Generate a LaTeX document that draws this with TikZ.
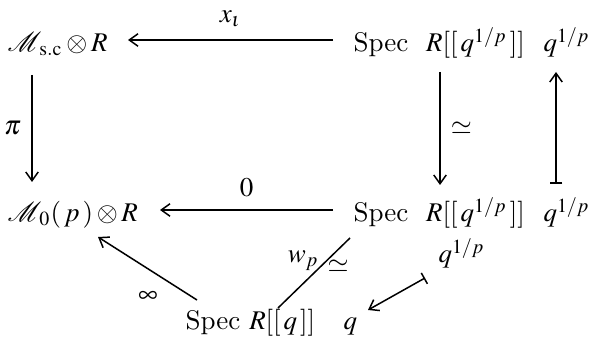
\documentclass[tikz,border=0pt]{standalone}
\usepackage{mathptmx}
\usepackage{mathrsfs}
\usetikzlibrary{calc,arrows.meta}
\begin{document}
\begin{tikzpicture}[x=0.4pt,y=-0.4pt,
  every node/.style={font=\fontsize{10.8}{13}\selectfont},
  obj/.style={anchor=west,inner sep=0pt,text height=11pt,text depth=1.5pt},
  lab/.style={inner sep=1pt},
  arr/.style={-{Straight Barb[length=3.5pt,width=5pt]},line width=0.6pt},
  mto/.style={{Bar[width=5pt]}-{Straight Barb[length=3.5pt,width=5pt]},line width=0.6pt},
  pln/.style={line width=0.6pt}]
\useasboundingbox (0,0) rectangle (594,339);
% objects
\node[obj] (msc) at (7,40) {$\mathscr{M}_{\,\mathrm{s.c}}\otimes R$};
\node[obj] (mzero) at (7,210) {$\mathscr{M}_{\,0}(\,p\,)\otimes R$};
\node[obj] (spectop) at (353,40) {Spec\ \ $R[[\,q^{1/p}\,]]$};
\node[obj] (qtop) at (543,40) {$q^{1/p}$};
\node[obj] (specbot) at (353,210) {Spec\ \ $R[[\,q^{1/p}\,]]$};
\node[obj] (qbot) at (543,210) {$q^{1/p}$};
\node[obj] (specq) at (185,318) {Spec $R[[\,q\,]]$};
\node[obj] (qq) at (343,318) {$q$};
\node[obj] (qmid) at (438,251) {$q^{1/p}$};
% arrows
\draw[arr] ($(spectop.west)+(-20,0)$) -- node[lab,above=4pt] {$x_\iota$} (128,40);
\draw[arr] ($(specbot.west)+(-20,0)$) -- node[lab,above=4pt] {$0$} (160,210);
\draw[arr] (msc.west)+(25,35) -- node[lab,left=3pt] {$\pi$} +(25,142);
\draw[arr] (spectop.west)+(87,32) -- node[lab,right=3pt] {$\simeq$} +(87,145);
\draw[mto] (qtop.west)+(13,144) -- +(13,32);
\draw[arr] (specq.west)+(12,-18) -- (98,237);
\node[lab] (inf) at (148,297) {$\infty$};
\draw[pln] ($(specbot.west)+(-3,28)$) -- coordinate[pos=0.38] (wm) ($(specq.west)+(93,-10)$);
\node[lab,anchor=east] (wlab) at ($(wm)+(-1,-4)$) {$w_p$};
\node[lab,anchor=west] (slab) at ($(wm)+(2,2)$) {$\simeq$};
\draw[mto] ($(qmid.west)+(-13,27)$) -- ($(qq.west)+(25,-8)$);
\end{tikzpicture}
\end{document}
